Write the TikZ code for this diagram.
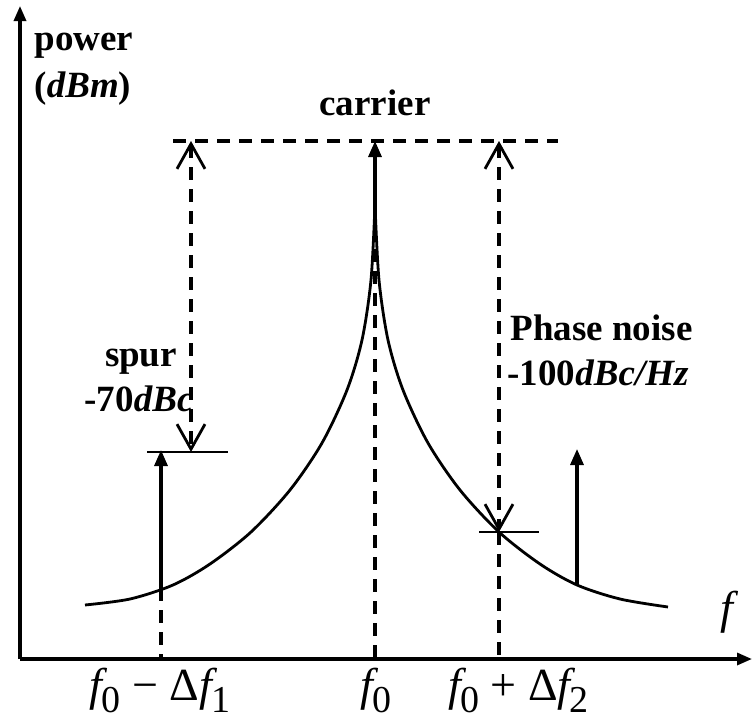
\documentclass[tikz,border=0pt]{standalone}
\usepackage{fontspec}
\setmainfont{Liberation Serif}
\newfontfamily\tnr{Liberation Serif}
\usetikzlibrary{arrows.meta}
\tikzset{
  every picture/.style={line width=3.2pt, x=1pt, y=-1pt},
  axis/.style={-{Triangle[length=15pt,width=12pt]}},
  curve/.style={line width=2.8pt},
  dline/.style={dash pattern=on 13pt off 9pt, line width=3.2pt},
  spike/.style={-{Triangle[length=16pt,width=13pt]}, line width=3.2pt},
  dbarb/.style={{Straight Barb[length=25pt,width=28pt,line width=2.8pt]}-{Straight Barb[length=25pt,width=28pt,line width=2.8pt]}},
  refline/.style={line width=1.7pt},
  lbl/.style={font={\fontsize{37}{44}\selectfont\bfseries}, inner sep=0pt},
  flbl/.style={font={\fontsize{46}{48}\selectfont\tnr}, inner sep=0pt},
}
\newcommand{\fsub}[1]{{\itshape f}\kern-1pt\raisebox{-0.28em}{\fontsize{38}{38}\selectfont#1}}

\begin{document}
\begin{tikzpicture}
  \useasboundingbox (0,0) rectangle (753,726);
  % axes
  \coordinate (O) at (20,659);
  \coordinate (ytop) at (20,6);
  \coordinate (xend) at (752,659);
  \draw[axis] (O) -- (ytop);
  \draw[axis] (O) -- (xend);
  \node[lbl, anchor=base west] (pw) at (33,50) {power};
  \node[lbl, anchor=base west] (unit) at (33,97) {(\textit{dBm})};
  \node[flbl] (fax) at (727,612) {\itshape f};
  % spectrum
  \draw[curve] plot[smooth] coordinates {(375,205) (371,280) (362,340) (347,390) (322,443) (290,490) (251,532) (210,564) (173,585) (130,599) (85,605)};
  \draw[curve] plot[smooth] coordinates {(375,205) (379,280) (388,340) (403,390) (428,443) (460,490) (499,532) (540,564) (577,585) (620,599) (668,607)};
  % carrier
  \coordinate (peak) at (375,205);
  \coordinate (ctop) at (375,141);
  \coordinate (c0) at (375,659);
  \draw[spike] (peak) -- (ctop);
  \draw[dline] (peak) -- (c0);
  \node[lbl, anchor=base] (car) at (375,115) {carrier};
  \coordinate (refl) at (173,141);
  \coordinate (refr) at (558,141);
  \draw[dline] (refl) -- (refr);
  % spur
  \coordinate (s1b) at (161,588);
  \coordinate (s1t) at (161,450);
  \coordinate (s1f) at (161,659);
  \draw[spike] (s1b) -- (s1t);
  \draw[dline] (s1b) -- (s1f);
  \coordinate (h1l) at (147,452);
  \coordinate (h1r) at (228,452);
  \draw[refline] (h1l) -- (h1r);
  \coordinate (g1t) at (191,141);
  \coordinate (g1b) at (191,452);
  \draw[dline, dbarb] (g1t) -- (g1b);
  \node[lbl, anchor=base] (sp1) at (141,366) {spur};
  \node[lbl, anchor=base] (sp2) at (139,411) {-70\textit{dBc}};
  % phase noise
  \coordinate (g2t) at (499,141);
  \coordinate (g2b) at (499,532);
  \coordinate (g2f) at (499,659);
  \draw[dline, dbarb] (g2t) -- (g2b);
  \draw[dline] (g2b) -- (g2f);
  \coordinate (h2l) at (479,532);
  \coordinate (h2r) at (539,532);
  \draw[refline] (h2l) -- (h2r);
  \node[lbl, anchor=base west] (pn1) at (509,340) {Phase noise};
  \node[lbl, anchor=base west] (pn2) at (506,385) {-100\textit{dBc/Hz}};
  \coordinate (s2b) at (577,585);
  \coordinate (s2t) at (577,449);
  \draw[spike] (s2b) -- (s2t);
  % frequency labels
  \node[flbl, anchor=base] (lf1) at (160,700) {\fsub{0}\hspace{0.25em}−\hspace{0.25em}Δ\fsub{1}};
  \node[flbl, anchor=base] (lf0) at (376,700) {\fsub{0}};
  \node[flbl, anchor=base west] (lf2) at (447,700) {\fsub{0}\hspace{0.25em}+\hspace{0.25em}Δ\fsub{2}};
\end{tikzpicture}
\end{document}
